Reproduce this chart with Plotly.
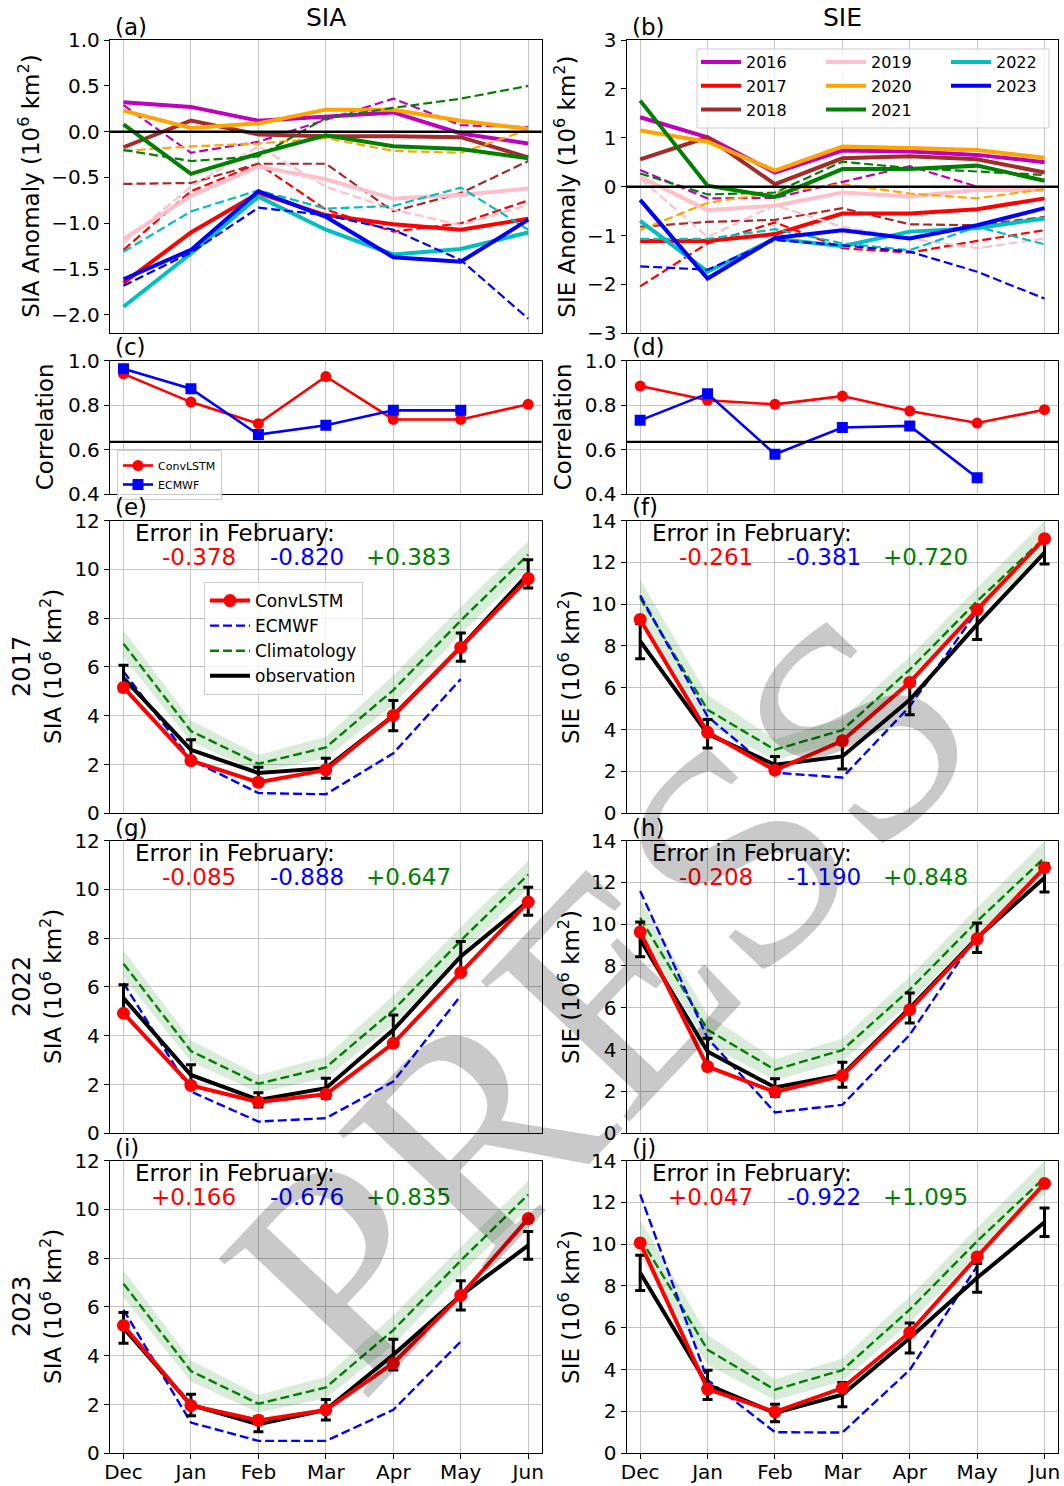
import plotly.graph_objects as go
import numpy as np

W, H = 1064, 1486
months = ["Dec", "Jan", "Feb", "Mar", "Apr", "May", "Jun"]
xi = list(range(7))
years = ["2016", "2017", "2018", "2019", "2020", "2021", "2022", "2023"]
year_colors = ["#bf00bf", "#ff0000", "#a52a2a", "#ffc0cb", "#ffa500", "#008000", "#00bfbf", "#0000ff"]

# ---- (a) SIA anomaly: solid (prediction) and dashed (observed) ----
sia_solid_2016 = [0.32, 0.27, 0.12, 0.16, 0.21, -0.02, -0.13]
sia_solid_2017 = [-1.65, -1.10, -0.67, -0.91, -1.01, -1.07, -0.95]
sia_solid_2018 = [-0.17, 0.12, -0.03, -0.05, -0.05, -0.06, -0.28]
sia_solid_2019 = [-1.17, -0.70, -0.38, -0.52, -0.73, -0.69, -0.62]
sia_solid_2020 = [0.23, 0.04, 0.09, 0.24, 0.24, 0.12, 0.03]
sia_solid_2021 = [0.08, -0.46, -0.24, -0.04, -0.16, -0.19, -0.29]
sia_solid_2022 = [-1.91, -1.33, -0.71, -1.07, -1.34, -1.28, -1.10]
sia_solid_2023 = [-1.61, -1.29, -0.65, -0.93, -1.37, -1.42, -0.96]
sia_dash_2016 = [0.29, -0.23, -0.11, 0.13, 0.36, 0.07, 0.05]
sia_dash_2017 = [-1.29, -0.65, -0.35, -0.85, -1.09, -1.00, -0.75]
sia_dash_2018 = [-0.57, -0.56, -0.35, -0.35, -0.87, -0.67, -0.32]
sia_dash_2019 = [-1.21, -0.60, -0.16, -0.60, -0.85, -1.02, -0.80]
sia_dash_2020 = [-0.21, -0.16, -0.13, -0.07, -0.21, -0.23, 0.02]
sia_dash_2021 = [-0.20, -0.32, -0.27, 0.15, 0.26, 0.36, 0.50]
sia_dash_2022 = [-1.31, -0.87, -0.64, -0.84, -0.81, -0.61, -1.07]
sia_dash_2023 = [-1.68, -1.32, -0.83, -0.91, -1.07, -1.40, -2.04]

# ---- (b) SIE anomaly ----
sie_solid_2016 = [1.42, 1.01, 0.29, 0.74, 0.72, 0.65, 0.50]
sie_solid_2017 = [-1.11, -1.11, -0.97, -0.55, -0.55, -0.46, -0.24]
sie_solid_2018 = [0.56, 1.01, 0.05, 0.58, 0.62, 0.56, 0.29]
sie_solid_2019 = [0.20, -0.48, -0.39, -0.12, -0.20, -0.07, -0.07]
sie_solid_2020 = [1.15, 0.92, 0.33, 0.82, 0.79, 0.75, 0.59]
sie_solid_2021 = [1.76, 0.02, -0.21, 0.36, 0.36, 0.43, 0.12]
sie_solid_2022 = [-0.70, -1.74, -1.06, -1.22, -0.92, -0.85, -0.65]
sie_solid_2023 = [-0.27, -1.88, -1.05, -0.89, -1.06, -0.79, -0.44]
sie_dash_2016 = [0.34, -0.24, -0.23, 0.10, 0.42, 0.00, -0.07]
sie_dash_2017 = [-2.04, -1.16, -0.73, -1.26, -1.35, -1.11, -0.89]
sie_dash_2018 = [-0.82, -0.72, -0.68, -0.44, -0.77, -0.79, -0.62]
sie_dash_2019 = [0.17, -1.03, -0.38, -0.82, -1.06, -1.26, -1.06]
sie_dash_2020 = [-0.89, -0.33, -0.12, 0.05, -0.14, -0.24, -0.05]
sie_dash_2021 = [0.27, -0.16, -0.12, 0.51, 0.38, 0.31, 0.24]
sie_dash_2022 = [-1.07, -1.07, -0.87, -1.16, -1.30, -0.82, -1.18]
sie_dash_2023 = [-1.63, -1.70, -1.09, -1.20, -1.33, -1.74, -2.29]

sia_solid = [sia_solid_2016, sia_solid_2017, sia_solid_2018, sia_solid_2019,
             sia_solid_2020, sia_solid_2021, sia_solid_2022, sia_solid_2023]
sia_dash = [sia_dash_2016, sia_dash_2017, sia_dash_2018, sia_dash_2019,
            sia_dash_2020, sia_dash_2021, sia_dash_2022, sia_dash_2023]
sie_solid = [sie_solid_2016, sie_solid_2017, sie_solid_2018, sie_solid_2019,
             sie_solid_2020, sie_solid_2021, sie_solid_2022, sie_solid_2023]
sie_dash = [sie_dash_2016, sie_dash_2017, sie_dash_2018, sie_dash_2019,
            sie_dash_2020, sie_dash_2021, sie_dash_2022, sie_dash_2023]

# ---- (c),(d) correlation ----
corr_sia_convlstm = [0.94, 0.813, 0.716, 0.928, 0.735, 0.735, 0.803]
corr_sia_ecmwf = [0.963, 0.873, 0.667, 0.709, 0.776, 0.776, None]
corr_sie_convlstm = [0.885, 0.821, 0.803, 0.84, 0.773, 0.719, 0.779]
corr_sie_ecmwf = [0.731, 0.851, 0.579, 0.699, 0.706, 0.473, None]
corr_threshold = 0.634

# ---- climatology ----
sia_clim = [6.95, 3.37, 2.03, 2.70, 5.05, 7.90, 10.60]
sia_clim_sd = [0.55, 0.44, 0.36, 0.44, 0.60, 0.56, 0.56]
sie_clim = [10.30, 4.95, 3.04, 3.98, 6.87, 10.14, 13.18]
sie_clim_sd = [0.88, 0.72, 0.50, 0.55, 0.63, 0.64, 0.80]

# ---- (e) SIA 2017 ----
sia17_obs = [5.54, 2.60, 1.65, 1.85, 4.00, 6.81, 9.81]
sia17_err = [0.53, 0.41, 0.24, 0.41, 0.62, 0.58, 0.58]
sia17_conv = [5.16, 2.16, 1.27, 1.78, 4.01, 6.80, 9.62]
sia17_ecm = [5.81, 2.19, 0.83, 0.78, 2.46, 5.50, None]
# ---- (f) SIE 2017 ----
sie17_obs = [8.23, 3.80, 2.32, 2.72, 5.43, 9.03, 12.46]
sie17_err = [0.84, 0.68, 0.40, 0.60, 0.72, 0.72, 0.54]
sie17_conv = [9.27, 3.87, 2.06, 3.47, 6.26, 9.74, 13.13]
sie17_ecm = [10.42, 4.63, 1.94, 1.71, 5.11, 9.66, None]
# ---- (g) SIA 2022 ----
sia22_obs = [5.54, 2.39, 1.37, 1.85, 4.24, 7.25, 9.51]
sia22_err = [0.55, 0.42, 0.29, 0.41, 0.61, 0.61, 0.57]
sia22_conv = [4.92, 1.96, 1.285, 1.60, 3.69, 6.59, 9.48]
sia22_ecm = [6.16, 1.71, 0.48, 0.62, 2.12, 5.64, None]
# ---- (h) SIE 2022 ----
sie22_obs = [9.27, 3.91, 2.19, 2.80, 5.99, 9.35, 12.22]
sie22_err = [0.83, 0.64, 0.42, 0.60, 0.72, 0.70, 0.68]
sie22_conv = [9.63, 3.19, 1.98, 2.76, 5.91, 9.30, 12.70]
sie22_ecm = [11.58, 4.55, 1.00, 1.36, 4.71, 9.50, None]
# ---- (i) SIA 2023 ----
sia23_obs = [5.14, 1.98, 1.19, 1.78, 4.04, 6.47, 8.52]
sia23_err = [0.63, 0.44, 0.31, 0.42, 0.63, 0.60, 0.57]
sia23_conv = [5.24, 1.96, 1.35, 1.78, 3.69, 6.47, 9.62]
sia23_ecm = [5.88, 1.26, 0.51, 0.51, 1.78, 4.58, None]
# ---- (j) SIE 2023 ----
sie23_obs = [8.63, 3.27, 1.93, 2.80, 5.51, 8.39, 11.05]
sie23_err = [0.84, 0.70, 0.42, 0.58, 0.72, 0.69, 0.68]
sie23_conv = [10.06, 3.07, 1.98, 3.12, 5.78, 9.39, 12.90]
sie23_ecm = [12.38, 3.51, 1.01, 0.99, 3.99, 8.95, None]

feb_err_text = {
    5: ["-0.378", "-0.820", "+0.383"],
    6: ["-0.261", "-0.381", "+0.720"],
    7: ["-0.085", "-0.888", "+0.647"],
    8: ["-0.208", "-1.190", "+0.848"],
    9: ["+0.166", "-0.676", "+0.835"],
    10: ["+0.047", "-0.922", "+1.095"],
}

FONT = "DejaVu Sans"

# ---------------- geometry (pixels) ----------------
col_lr = [(110.0, 541.7), (626.7, 1058.0)]
row_tb = [(40.0, 333.3), (360.5, 494.0), (520.5, 813.3), (840.5, 1133.3), (1160.5, 1453.3)]


def px(xp):
    return xp / W


def py(yp):
    return 1 - yp / H


def ax_ids(k):
    return ("x" if k == 1 else f"x{k}"), ("y" if k == 1 else f"y{k}")


fig = go.Figure()
layout_axes = {}
for r in range(5):
    for c in range(2):
        k = r * 2 + c + 1
        xn = "xaxis" if k == 1 else f"xaxis{k}"
        yn = "yaxis" if k == 1 else f"yaxis{k}"
        xid, yid = ax_ids(k)
        l, rr = col_lr[c]
        t, b = row_tb[r]
        bottom = (r == 4)
        layout_axes[xn] = dict(
            domain=[px(l), px(rr)], anchor=yid, range=[-0.2, 6.2],
            tickmode="array", tickvals=xi, ticktext=months,
            showticklabels=bottom, ticks="outside" if bottom else "",
            ticklen=5, tickwidth=1.3, tickcolor="black",
            showline=True, linecolor="black", linewidth=1.3, mirror=True,
            showgrid=True, gridcolor="#c4c4c4", gridwidth=1, zeroline=False,
            tickfont=dict(family=FONT, size=20, color="black"),
        )
        if bottom:
            layout_axes[xn]["ticklabelstandoff"] = -4
        ya = dict(
            domain=[py(b), py(t)], anchor=xid,
            ticks="outside", ticklen=5, tickwidth=1.3, tickcolor="black",
            showline=True, linecolor="black", linewidth=1.3, mirror=True,
            gridcolor="#c4c4c4", gridwidth=1, zeroline=False,
            tickfont=dict(family=FONT, size=20, color="black"),
        )
        if r == 0:
            if c == 0:
                ya.update(range=[-2.2, 1.0], dtick=0.5, tick0=0, tickformat=".1f", showgrid=False)
            else:
                ya.update(range=[-3, 3], dtick=1, tick0=0, showgrid=False)
        elif r == 1:
            ya.update(range=[0.4, 1.0], dtick=0.2, tick0=0.4, tickformat=".1f", showgrid=True)
        else:
            ya.update(range=[0, 12] if c == 0 else [0, 14], dtick=2, tick0=0, showgrid=True)
        layout_axes[yn] = ya

DASH = "9px,4px"

# ---------------- (a) and (b) ----------------
for i, yr in enumerate(years):
    col = year_colors[i]
    fig.add_trace(go.Scatter(x=xi, y=sia_solid[i], mode="lines", line=dict(color=col, width=4),
                             xaxis="x", yaxis="y", showlegend=False, name=yr))
    fig.add_trace(go.Scatter(x=xi, y=sia_dash[i], mode="lines", line=dict(color=col, width=2.2, dash=DASH),
                             xaxis="x", yaxis="y", showlegend=False, name=yr))
    leg = "legend" if i < 3 else ("legend2" if i < 6 else "legend3")
    fig.add_trace(go.Scatter(x=xi, y=sie_solid[i], mode="lines", line=dict(color=col, width=4),
                             xaxis="x2", yaxis="y2", showlegend=True, legend=leg, name=yr))
    fig.add_trace(go.Scatter(x=xi, y=sie_dash[i], mode="lines", line=dict(color=col, width=2.2, dash=DASH),
                             xaxis="x2", yaxis="y2", showlegend=False, name=yr))

# ---------------- (c) and (d) ----------------
fig.add_trace(go.Scatter(x=xi, y=corr_sia_convlstm, mode="lines+markers", name="ConvLSTM",
                         line=dict(color="red", width=2.6), marker=dict(symbol="circle", size=11, color="red"),
                         xaxis="x3", yaxis="y3", legend="legend4", showlegend=True))
fig.add_trace(go.Scatter(x=xi, y=corr_sia_ecmwf, mode="lines+markers", name="ECMWF",
                         line=dict(color="blue", width=2.6), marker=dict(symbol="square", size=11, color="blue"),
                         xaxis="x3", yaxis="y3", legend="legend4", showlegend=True))
fig.add_trace(go.Scatter(x=xi, y=corr_sie_convlstm, mode="lines+markers", name="ConvLSTM",
                         line=dict(color="red", width=2.6), marker=dict(symbol="circle", size=11, color="red"),
                         xaxis="x4", yaxis="y4", showlegend=False))
fig.add_trace(go.Scatter(x=xi, y=corr_sie_ecmwf, mode="lines+markers", name="ECMWF",
                         line=dict(color="blue", width=2.6), marker=dict(symbol="square", size=11, color="blue"),
                         xaxis="x4", yaxis="y4", showlegend=False))

# ---------------- (e)-(j) ----------------
panels = [
    (5, sia17_obs, sia17_err, sia17_conv, sia17_ecm, sia_clim, sia_clim_sd),
    (6, sie17_obs, sie17_err, sie17_conv, sie17_ecm, sie_clim, sie_clim_sd),
    (7, sia22_obs, sia22_err, sia22_conv, sia22_ecm, sia_clim, sia_clim_sd),
    (8, sie22_obs, sie22_err, sie22_conv, sie22_ecm, sie_clim, sie_clim_sd),
    (9, sia23_obs, sia23_err, sia23_conv, sia23_ecm, sia_clim, sia_clim_sd),
    (10, sie23_obs, sie23_err, sie23_conv, sie23_ecm, sie_clim, sie_clim_sd),
]
for k, obs, err, conv, ecm, clim, sd in panels:
    xid, yid = ax_ids(k)
    first = (k == 5)
    lo = (np.array(clim) - np.array(sd)).tolist()
    hi = (np.array(clim) + np.array(sd)).tolist()
    fig.add_trace(go.Scatter(x=xi, y=lo, mode="lines", line=dict(width=0, color="rgba(0,128,0,0)"),
                             xaxis=xid, yaxis=yid, showlegend=False, hoverinfo="skip"))
    fig.add_trace(go.Scatter(x=xi, y=hi, mode="lines", line=dict(width=0, color="rgba(0,128,0,0)"),
                             fill="tonexty", fillcolor="rgba(0,128,0,0.15)",
                             xaxis=xid, yaxis=yid, showlegend=False, hoverinfo="skip"))
    fig.add_trace(go.Scatter(x=xi, y=clim, mode="lines", name="Climatology",
                             line=dict(color="green", width=2.4, dash=DASH),
                             xaxis=xid, yaxis=yid, showlegend=first, legend="legend5", legendrank=3))
    fig.add_trace(go.Scatter(x=xi, y=ecm, mode="lines", name="ECMWF",
                             line=dict(color="blue", width=2.4, dash=DASH),
                             xaxis=xid, yaxis=yid, showlegend=first, legend="legend5", legendrank=2))
    fig.add_trace(go.Scatter(x=xi, y=obs, mode="lines", name="observation",
                             line=dict(color="black", width=4),
                             error_y=dict(type="data", array=err, visible=True, color="black",
                                          thickness=3, width=5),
                             xaxis=xid, yaxis=yid, showlegend=first, legend="legend5", legendrank=4))
    fig.add_trace(go.Scatter(x=xi, y=conv, mode="lines+markers", name="ConvLSTM",
                             line=dict(color="red", width=4), marker=dict(color="red", size=13),
                             xaxis=xid, yaxis=yid, showlegend=first, legend="legend5", legendrank=1))

# ---------------- annotations ----------------
ann = []
ann.append(dict(text="SIA", x=px(325.8), y=py(18), xref="paper", yref="paper", showarrow=False,
                font=dict(family=FONT, size=25, color="black"), xanchor="center", yanchor="middle"))
ann.append(dict(text="SIE", x=px(842.3), y=py(18), xref="paper", yref="paper", showarrow=False,
                font=dict(family=FONT, size=25, color="black"), xanchor="center", yanchor="middle"))

letters = "abcdefghij"
for r in range(5):
    for c in range(2):
        k = r * 2 + c
        l, _ = col_lr[c]
        t, _ = row_tb[r]
        ann.append(dict(text=f"({letters[k]})", x=px(l + 3), y=py(t - 13), xref="paper", yref="paper",
                        showarrow=False, xanchor="left", yanchor="middle",
                        font=dict(family=FONT, size=23, color="black")))


def ytitle(text, xc, yc, size=23):
    ann.append(dict(text=text, x=px(xc), y=py(yc), xref="paper", yref="paper", showarrow=False,
                    textangle=-90, xanchor="center", yanchor="middle",
                    font=dict(family=FONT, size=size, color="black")))


def rowc(r):
    return (row_tb[r][0] + row_tb[r][1]) / 2


ytitle("SIA Anomaly (10<sup>6</sup> km<sup>2</sup>)", 29, rowc(0))
ytitle("SIE Anomaly (10<sup>6</sup> km<sup>2</sup>)", 565, rowc(0))
ytitle("Correlation", 45, rowc(1))
ytitle("Correlation", 563, rowc(1))
for r, yr in zip([2, 3, 4], ["2017", "2022", "2023"]):
    ytitle(yr, 22, rowc(r), size=24)
    ytitle("SIA (10<sup>6</sup> km<sup>2</sup>)", 51, rowc(r))
    ytitle("SIE (10<sup>6</sup> km<sup>2</sup>)", 569, rowc(r))

for k, vals in feb_err_text.items():
    r = (k - 1) // 2
    c = (k - 1) % 2
    l, _ = col_lr[c]
    t, _ = row_tb[r]
    ann.append(dict(text="Error in February:", x=px(l + 23), y=py(t + 12.5), xref="paper", yref="paper",
                    showarrow=False, xanchor="left", yanchor="middle",
                    font=dict(family=FONT, size=23, color="black")))
    for v, off, colr in zip(vals, [128, 236, 343], ["red", "blue", "green"]):
        ann.append(dict(text=v, x=px(l + off), y=py(t + 36.5), xref="paper", yref="paper",
                        showarrow=False, xanchor="right", yanchor="middle",
                        font=dict(family=FONT, size=23, color=colr)))

# watermark
ann.append(dict(text="PRESS", x=px(600), y=py(1000), xref="paper", yref="paper", showarrow=False,
                xanchor="center", yanchor="middle", textangle=-46.6,
                font=dict(family="Liberation Serif", size=312, color="rgba(0,0,0,0.21)")))

# ---------------- shapes ----------------
shapes = [
    dict(type="line", xref="x domain", yref="y", x0=0, x1=1, y0=0, y1=0, line=dict(color="black", width=2.5), layer="above"),
    dict(type="line", xref="x2 domain", yref="y2", x0=0, x1=1, y0=0, y1=0, line=dict(color="black", width=2.5), layer="above"),
    dict(type="line", xref="x3 domain", yref="y3", x0=0, x1=1, y0=corr_threshold, y1=corr_threshold,
         line=dict(color="black", width=2.2), layer="above"),
    dict(type="line", xref="x4 domain", yref="y4", x0=0, x1=1, y0=corr_threshold, y1=corr_threshold,
         line=dict(color="black", width=2.2), layer="above"),
    dict(type="rect", xref="paper", yref="paper", x0=px(697), x1=px(1049), y0=py(128), y1=py(49),
         fillcolor="rgba(255,255,255,0.8)", line=dict(color="#cccccc", width=1), layer="above"),
]

legend_common = dict(bgcolor="rgba(0,0,0,0)", borderwidth=0, orientation="v", xanchor="left", yanchor="top",
                     font=dict(family=FONT, size=16, color="black"), tracegroupgap=0, xref="paper", yref="paper",
                     traceorder="normal", itemwidth=40)

fig.update_layout(
    autosize=True, margin=dict(l=0, r=0, t=0, b=0, autoexpand=False),
    paper_bgcolor="white", plot_bgcolor="white",
    font=dict(family=FONT, color="black"),
    annotations=ann, shapes=shapes,
    legend=dict(x=px(696), y=py(45), **legend_common),
    legend2=dict(x=px(821), y=py(45), **legend_common),
    legend3=dict(x=px(946), y=py(45), **legend_common),
    legend4=dict(x=px(117), y=py(450), xanchor="left", yanchor="top", bgcolor="rgba(255,255,255,0.8)",
                 bordercolor="#cccccc", borderwidth=1, font=dict(family=FONT, size=11, color="black"),
                 tracegroupgap=0, xref="paper", yref="paper", traceorder="normal"),
    legend5=dict(x=px(204), y=py(582), xanchor="left", yanchor="top", bgcolor="rgba(255,255,255,0.8)",
                 bordercolor="#cccccc", borderwidth=1, font=dict(family=FONT, size=17, color="black"),
                 tracegroupgap=0, xref="paper", yref="paper", traceorder="normal", itemwidth=40),
    **layout_axes,
)

fig.write_html(
    "out.html",
    config={"displayModeBar": False},
    default_width=f"{W}px; position:absolute; left:0px; top:0px",
    default_height=f"{H}px",
)
